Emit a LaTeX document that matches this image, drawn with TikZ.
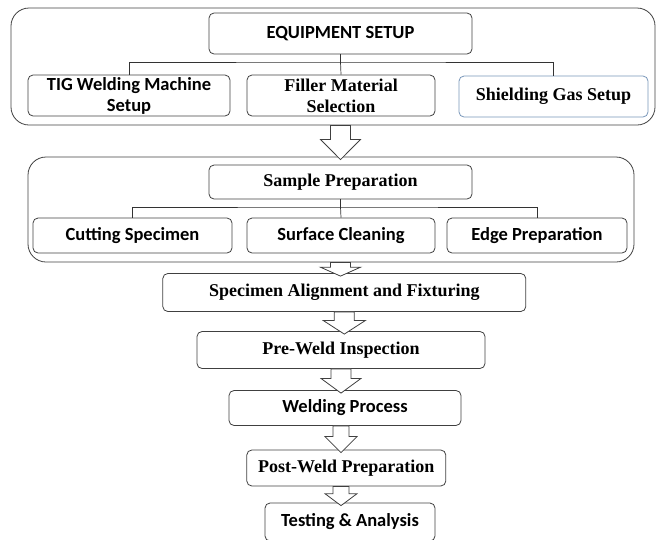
\documentclass[tikz,border=0pt]{standalone}
\usepackage{fontspec}
\setmainfont{Liberation Serif}
\newfontfamily\calfont{Carlito}
\usetikzlibrary{calc}
\definecolor{gasblue}{RGB}{120,150,185}

% hollow block arrow: from #1.south to #2.north, centred on the x of #3
\newcommand{\flowarrow}[5]{%
  \draw[hollow] let \p1=(#1.south), \p2=(#2.north), \p3=(#3) in
    (\x3-#4,\y1) -- (\x3-#4,{0.55*\y1+0.45*\y2}) -- (\x3-#5,{0.55*\y1+0.45*\y2})
    -- (\x3,\y2-3) -- (\x3+#5,{0.55*\y1+0.45*\y2}) -- (\x3+#4,{0.55*\y1+0.45*\y2})
    -- (\x3+#4,\y1) -- cycle;}

\begin{document}
\begin{tikzpicture}[x=1pt,y=-1pt,
    box/.style={draw=black!75,line width=0.8pt,rounded corners=5pt,
      align=center,inner sep=0pt},
    sanslabel/.style={font=\calfont\bfseries\fontsize{18.5}{21}\selectfont},
    seriflabel/.style={font=\bfseries\fontsize{18}{21}\selectfont},
    group/.style={draw=black!75,line width=0.8pt,rounded corners=18pt,inner sep=0pt},
    bus/.style={draw=black!80,line width=0.7pt},
    hollow/.style={draw=black!75,line width=0.8pt,fill=white}]
  \useasboundingbox (0,0) rectangle (656,539);

  % equipment group
  \node[group,minimum width=644,minimum height=117] (grpA) at (333,66.5) {};
  \node[box,sanslabel,minimum width=263,minimum height=41] (equip) at (340.5,33.5) {EQUIPMENT SETUP};
  \node[box,sanslabel,minimum width=202,minimum height=41] (tig) at (129,95.5) {TIG Welding Machine\\Setup};
  \node[box,seriflabel,minimum width=188,minimum height=41] (filler) at (341,95.5) {Filler Material\\Selection};
  \node[box,seriflabel,draw=gasblue,minimum width=189,minimum height=41] (shield) at (553.5,96.5) {Shielding Gas Setup};
  \coordinate (busA) at (340.5,62);
  \draw[bus] (equip.south) -- (busA);
  \draw[bus] (tig.north) |- (busA) -| (shield.north);
  \draw[bus] (busA) -- (filler.north);

  % sample group
  \node[group,minimum width=606,minimum height=105] (grpB) at (331,209.5) {};
  \node[box,seriflabel,minimum width=263,minimum height=34] (sample) at (340.5,182) {Sample Preparation};
  \node[box,sanslabel,minimum width=199,minimum height=35] (cut) at (132.5,235.5) {Cutting Specimen};
  \node[box,sanslabel,minimum width=188,minimum height=35] (surf) at (341,235.5) {Surface Cleaning};
  \node[box,sanslabel,minimum width=180,minimum height=35] (edge) at (537,235.5) {Edge Preparation};
  \coordinate (busB) at (340.5,207);
  \draw[bus] (sample.south) -- (busB);
  \draw[bus] (cut.north) |- (busB) -| (edge.north);
  \draw[bus] (busB) -- (surf.north);

  % main chain
  \node[box,seriflabel,minimum width=363,minimum height=38] (align) at (344.3,292.5) {Specimen Alignment and Fixturing};
  \node[box,seriflabel,minimum width=288,minimum height=37] (inspect) at (341,350) {Pre-Weld Inspection};
  \node[box,sanslabel,minimum width=232,minimum height=35] (weld) at (345,408) {Welding Process};
  \node[box,seriflabel,minimum width=199,minimum height=36] (post) at (346.3,468) {Post-Weld Preparation};
  \node[box,sanslabel,minimum width=170,minimum height=38] (test) at (350,522) {Testing \& Analysis};

  \flowarrow{grpA}{grpB}{equip}{10}{20}
  \flowarrow{grpB}{align}{sample}{10}{20}
  \flowarrow{align}{inspect}{align}{10}{21}
  \flowarrow{inspect}{weld}{inspect}{10}{20}
  \flowarrow{weld}{post}{inspect}{8}{16}
  \flowarrow{post}{test}{inspect}{8}{16}
\end{tikzpicture}
\end{document}
